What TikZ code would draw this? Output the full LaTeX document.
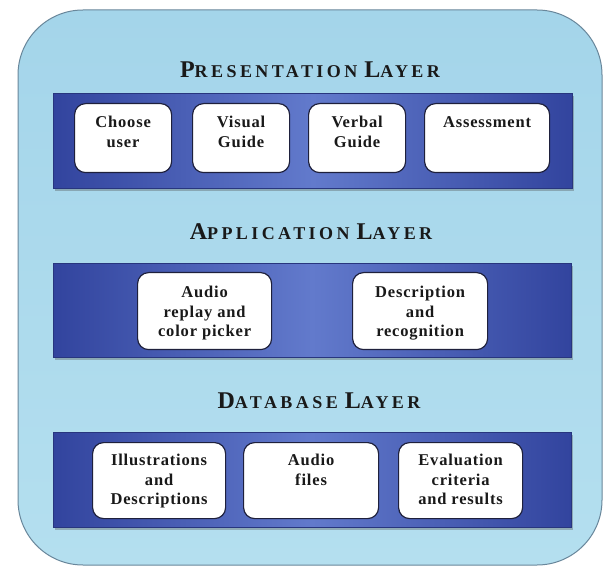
\documentclass[tikz,border=0pt]{standalone}
\usepackage{fontspec}
\setmainfont{Liberation Serif}
\newfontfamily\cardfont{Liberation Serif}[LetterSpace=5, BoldFont={Liberation Serif Bold}]
\usetikzlibrary{shadows}
\definecolor{outertop}{RGB}{164,213,234}
\definecolor{outerbot}{RGB}{180,223,239}
\definecolor{outerline}{RGB}{105,135,155}
\definecolor{bandedge}{RGB}{50,68,158}
\definecolor{bandmid}{RGB}{98,122,204}
\definecolor{boxline}{RGB}{30,32,60}
\definecolor{ink}{RGB}{25,25,25}
\newcommand{\bigc}[1]{{\fontsize{24}{24}\selectfont\addfontfeature{LetterSpace=14}#1}}
\newcommand{\smc}[1]{{\fontsize{18}{18}\selectfont\addfontfeature{LetterSpace=19}#1}}
\newcommand{\wsp}{\hspace{7pt}}
\tikzset{
  outerbox/.style={draw=outerline, line width=1pt, top color=outertop, bottom color=outerbot, rounded corners=65pt},
  band/.style={anchor=north west, inner sep=0pt, draw=bandedge!80!black, line width=0.4pt,
    left color=bandedge, right color=bandedge, middle color=bandmid,
    drop shadow={shadow xshift=2pt, shadow yshift=-3pt, opacity=0.35, fill=black!70}},
  card/.style={anchor=north west, inner sep=0pt, draw=boxline, line width=1.2pt, fill=white, rounded corners=11pt},
  cardtext/.style={anchor=north, inner sep=0pt, align=center, text=ink,
    font=\cardfont\bfseries\fontsize{16.5}{19.5}\selectfont},
  title/.style={anchor=base, inner sep=0pt, text=ink, font=\bfseries}
}
\begin{document}
\begin{tikzpicture}[x=1pt,y=-1pt]
\useasboundingbox (0,0) rectangle (608,569);
\fill[white] (0,0) rectangle (608,569);
\path[outerbox] (18,10) rectangle (602,565);

% titles
\node[title] (tpres) at (310,78) {\bigc{P}\smc{RESENTATION}\wsp\bigc{L}\smc{AYER}};
\node[title] (tapp) at (311,240) {\bigc{A}\smc{PPLICATION}\wsp\bigc{L}\smc{AYER}};
\node[title] (tdb) at (319,408) {\bigc{D}\smc{ATABASE}\wsp\bigc{L}\smc{AYER}};

% bands
\node[band, minimum width=519pt, minimum height=95pt] (bpres) at (53,93) {};
\node[band, minimum width=518pt, minimum height=94pt] (bapp) at (53,263) {};
\node[band, minimum width=518pt, minimum height=95pt] (bdb) at (53,432) {};

% presentation cards
\node[card, minimum width=97pt, minimum height=69pt] (p1) at (74,103) {};
\node[card, minimum width=97pt, minimum height=69pt] (p2) at (192,103) {};
\node[card, minimum width=97pt, minimum height=69pt] (p3) at (308,103) {};
\node[card, minimum width=125pt, minimum height=69pt] (p4) at (424,103) {};
\node[cardtext] (p1t) at ([yshift=-13pt]p1.north) {Choose\\user};
\node[cardtext] (p2t) at ([yshift=-13pt]p2.north) {Visual\\Guide};
\node[cardtext] (p3t) at ([yshift=-13pt]p3.north) {Verbal\\Guide};
\node[cardtext] (p4t) at ([yshift=-13pt]p4.north) {Assessment};

% application cards
\node[card, minimum width=134pt, minimum height=77pt] (a1) at (137,272) {};
\node[card, minimum width=135pt, minimum height=77pt] (a2) at (352,272) {};
\node[cardtext] (a1t) at ([yshift=-14pt]a1.north) {Audio\\replay and\\color picker};
\node[cardtext] (a2t) at ([yshift=-14pt]a2.north) {Description\\and\\recognition};

% database cards
\node[card, minimum width=133pt, minimum height=76pt] (d1) at (92,442) {};
\node[card, minimum width=135pt, minimum height=76pt] (d2) at (243,442) {};
\node[card, minimum width=124pt, minimum height=76pt] (d3) at (398,442) {};
\node[cardtext] (d1t) at ([yshift=-12pt]d1.north) {Illustrations\\and\\Descriptions};
\node[cardtext] (d2t) at ([yshift=-12pt]d2.north) {Audio\\files};
\node[cardtext] (d3t) at ([yshift=-12pt]d3.north) {Evaluation\\criteria\\and results};
\end{tikzpicture}
\end{document}
